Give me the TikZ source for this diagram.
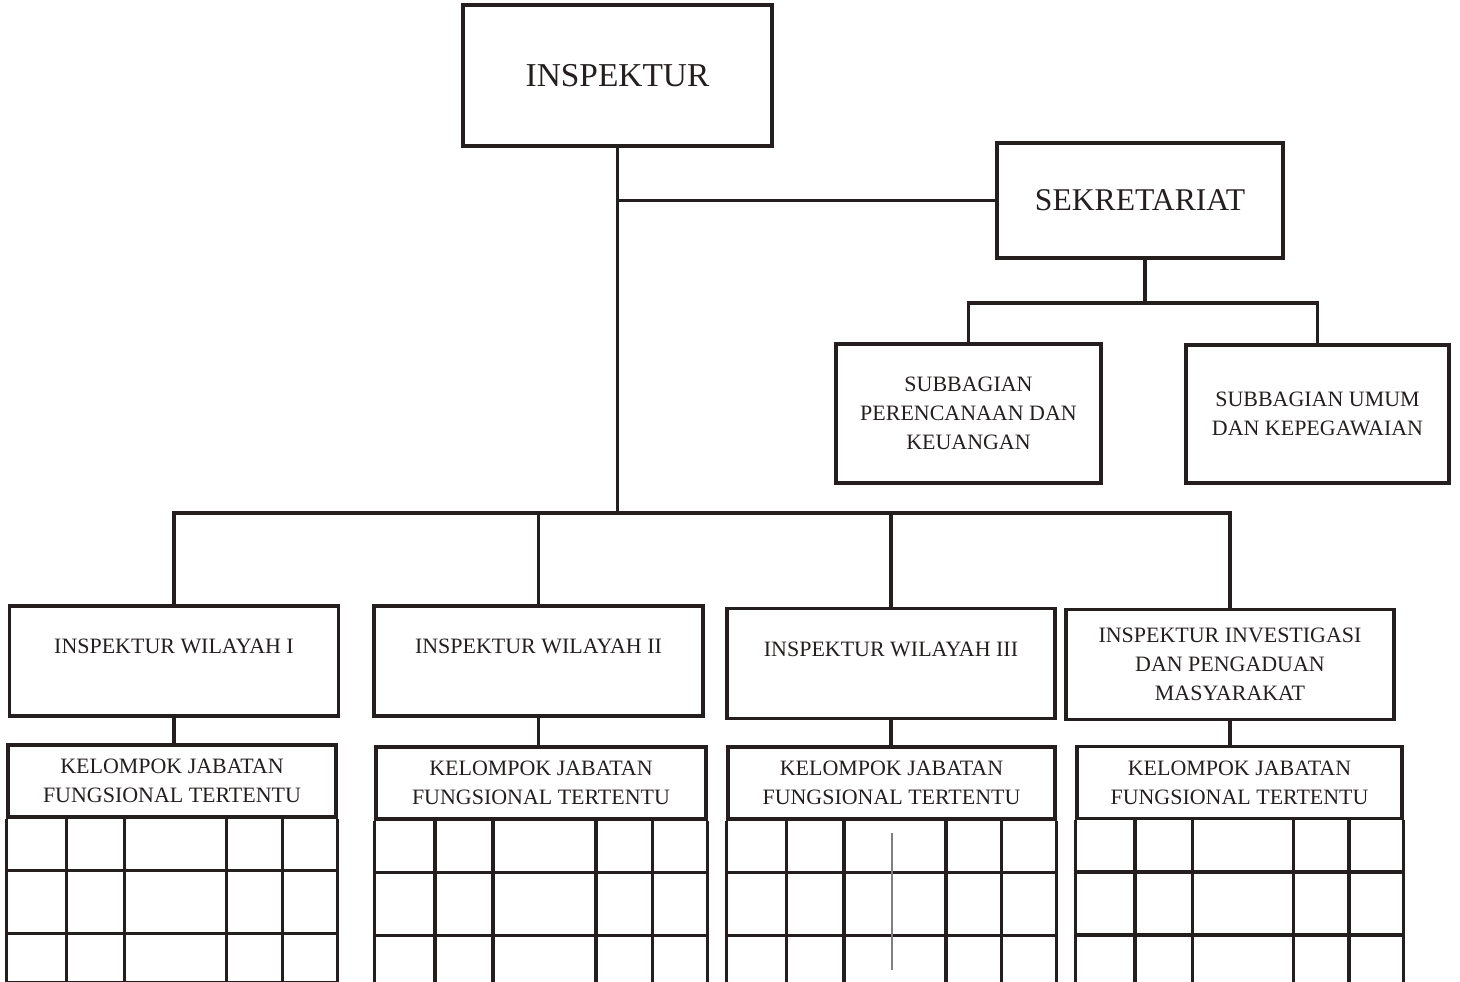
\documentclass[tikz,border=0pt]{standalone}
\usepackage{fontspec}
\setmainfont{Liberation Serif}
\usepackage{xcolor}
\usepackage{tikz}
\usetikzlibrary{calc}
\definecolor{ink}{RGB}{36,30,30}

\begin{document}
\begin{tikzpicture}[x=0.02cm,y=-0.02cm,line width=1.9pt,color=ink,
  kotak/.style={draw,rectangle,inner sep=0pt,align=center,font=\fontsize{12.5}{16.4}\selectfont},
  besar/.style={kotak,font=\fontsize{19}{22}\selectfont},
  wilayah/.style={kotak,minimum width=6.58cm,minimum height=2.2cm},
  kelompok/.style={kotak,minimum width=6.56cm,minimum height=1.44cm}]
\useasboundingbox (0,0) rectangle (1460,982);
\node[besar,minimum width=6.18cm,minimum height=2.82cm](insp) at (617.5,75.5){INSPEKTUR};
\node[besar,font=\fontsize{18}{22}\selectfont,minimum width=5.72cm,minimum height=2.3cm](sekr) at (1140,200.5){SEKRETARIAT};
\node[kotak,minimum width=5.3cm,minimum height=2.78cm](sub1) at (968.5,413.5){SUBBAGIAN\\PERENCANAAN DAN\\KEUANGAN};
\node[kotak,minimum width=5.26cm,minimum height=2.76cm](sub2) at (1317.5,414){SUBBAGIAN UMUM\\DAN KEPEGAWAIAN};
\node[wilayah](w1) at (174,661){INSPEKTUR WILAYAH I\\~};
\node[wilayah](w2) at (538.5,661){INSPEKTUR WILAYAH II\\~};
\node[wilayah,minimum width=6.56cm](w3) at (891,663.5){INSPEKTUR WILAYAH III\\~};
\node[wilayah,minimum width=6.56cm](w4) at (1230,664.5){INSPEKTUR INVESTIGASI\\DAN PENGADUAN\\MASYARAKAT};
\node[kelompok](k1) at (172,781){KELOMPOK JABATAN\\FUNGSIONAL TERTENTU};
\node[kelompok,minimum width=6.6cm](k2) at (541,783){KELOMPOK JABATAN\\FUNGSIONAL TERTENTU};
\node[kelompok,minimum width=6.54cm](k3) at (891.5,783){KELOMPOK JABATAN\\FUNGSIONAL TERTENTU};
\node[kelompok,minimum width=6.5cm](k4) at (1239.5,782.5){KELOMPOK JABATAN\\FUNGSIONAL TERTENTU};
\coordinate(bus) at (617.5,513);
\coordinate(sbus) at (1145,303);
\draw(insp.south)--(bus);
\draw(insp.south|-sekr.west)--(sekr.west);
\draw(sekr.south-|sbus)--(sbus);
\draw(sub1.north)|-(sbus)-|(sub2.north);
\draw(w1.north)|-(bus)-|(w4.north);
\draw(w2.north)--(w2.north|-bus);
\draw(w3.north)--(w3.north|-bus);
\foreach \w/\k in {w1/k1,w2/k2,w3/k3,w4/k4}{
  \draw(\w.south)--(\w.south|-\k.north);
  \draw(\k.south west)--($(\k.south west)+(0,164)$)-|(\k.south east);
  \foreach \f in {0.182,0.356,0.665,0.834}
    \draw($(\k.south west)!\f!(\k.south east)$)--++(0,164);
  \foreach \d in {52,115}
    \draw($(\k.south west)+(0,\d)$)--($(\k.south east)+(0,\d)$);
}
\draw[gray,line width=0.6pt](892,833)--(892,970);
\end{tikzpicture}
\end{document}
